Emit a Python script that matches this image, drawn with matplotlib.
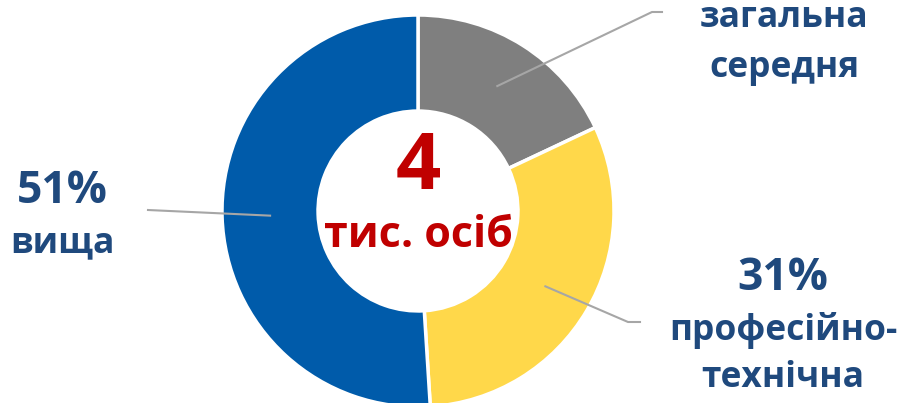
import numpy as np
import matplotlib
matplotlib.use("Agg")
import matplotlib.pyplot as plt

plt.rcParams['font.family'] = ['Open Sans', 'DejaVu Sans']

categories = ["загальна\nсередня", "професійно-\nтехнічна", "вища"]
shares = [18, 31, 51]
showPercent = [False, True, True]  # the top label's percent lies above the cropped picture
colors = ["#7F7F7F", "#FFD84A", "#005BAA"]
total_value = "4"
total_unit = "тис. осіб"

textColor = "#1F497D"
lineColor = "#A6A6A6"

W, H = 908, 403
cx, cy, R = 418, 211, 196

fig = plt.figure(figsize=(W / 100, H / 100), dpi=100)
ax = fig.add_axes([(cx - R) / W, (H - cy - R) / H, 2 * R / W, 2 * R / H])

inner = 0.51
wedges, _ = ax.pie(shares, colors=colors, startangle=90, counterclock=False,
                   radius=1, wedgeprops=dict(width=1 - inner, edgecolor='white', linewidth=2.5))
ax.set_xlim(-1, 1)
ax.set_ylim(-1, 1)
ax.set_aspect('equal')
ax.axis('off')

def px(x, y):
    return (x - cx) / R, (cy - y) / R

# label x centre, baselines (percent, name lines), leader elbow and tail (pixels)
labelPos = [
    (784, [-23, 27, 77], (652, 12), (662, 12)),
    (783, [290, 340, 387], (628, 322), (640, 322)),
    (62, [203, 252], (148, 210), None),
]

mid_r = (1 + inner) / 2
for w, share, cat, show, (lx, ys, elbow, tail) in zip(wedges, shares, categories, showPercent, labelPos):
    ang = np.deg2rad((w.theta1 + w.theta2) / 2)
    sx, sy = mid_r * np.cos(ang), mid_r * np.sin(ang)
    ex, ey = px(*elbow)
    xs, yl = [sx, ex], [sy, ey]
    if tail is not None:
        tx, ty = px(*tail)
        xs.append(tx)
        yl.append(ty)
    ax.plot(xs, yl, color=lineColor, lw=1.5, clip_on=False, zorder=3)
    texts = [f"{share}%"] + cat.split("\n")
    for i, (t, yy) in enumerate(zip(texts, ys)):
        if i == 0 and not show:
            continue
        x, y = px(lx, yy)
        ax.text(x, y, t, ha='center', va='baseline', fontsize=32 if i == 0 else 25.5,
                fontweight='bold', color=textColor, clip_on=False)

x, y = px(cx, 189)
ax.text(x, y, total_value, ha='center', va='baseline', fontsize=57, fontweight='bold', color="#C00000")
x, y = px(418, 247)
ax.text(x, y, total_unit, ha='center', va='baseline', fontsize=31, fontweight='bold', color="#C00000")

fig.savefig("out.png", dpi=100)
